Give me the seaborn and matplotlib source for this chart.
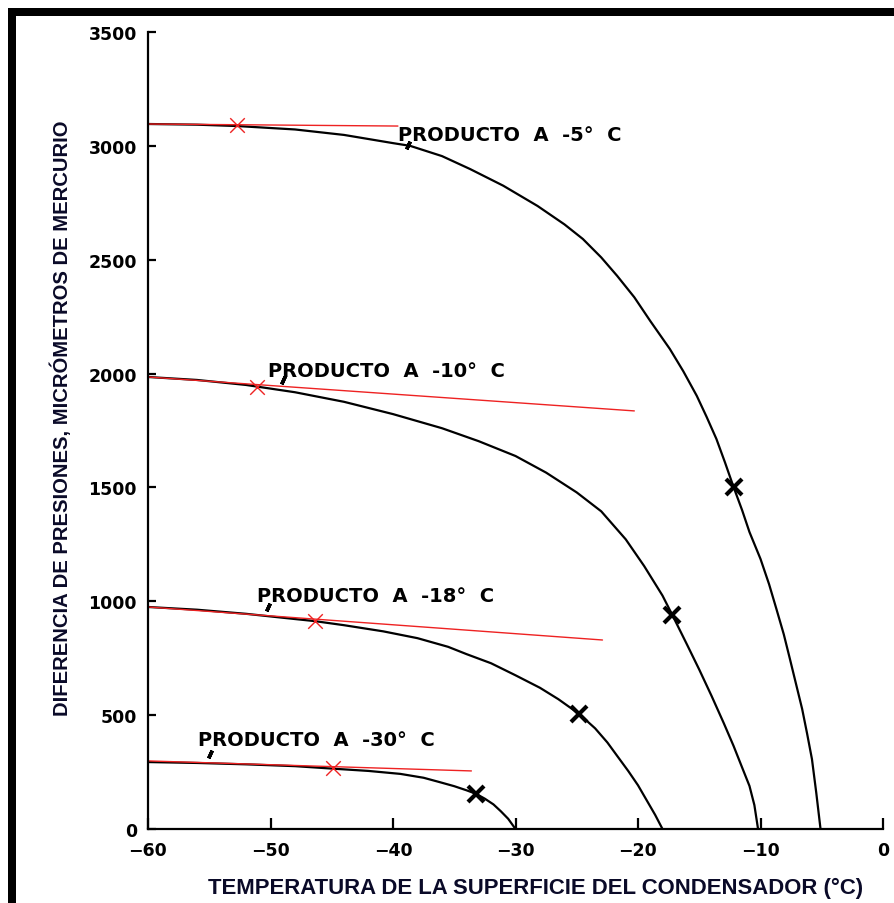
import numpy as np
import pandas as pd
import matplotlib
matplotlib.use("Agg")
import matplotlib.pyplot as plt
from matplotlib.patches import Rectangle
from matplotlib import font_manager
import seaborn as sns

# ---------------- data ----------------
T5 = [-60, -56, -52.7, -48, -44, -40, -38.6, -36, -33.7, -31, -28.2, -26, -24.5,
      -23, -21.7, -20.3, -19, -17.4, -16.3, -15.2, -14.4, -13.6, -12.9, -12.2,
      -11.5, -10.9, -10.0, -9.3, -8.7, -8.1, -7.6, -7.1, -6.6, -6.2, -5.8, -5.45, -5.1]
P5 = [3096, 3093, 3087, 3072, 3048, 3012, 3000, 2955, 2898, 2825, 2736, 2655, 2591,
      2510, 2429, 2335, 2231, 2108, 2010, 1902, 1810, 1713, 1610, 1502,
      1400, 1304, 1186, 1075, 966, 855, 747, 637, 527, 420, 307, 160, 0]

T10 = [-60, -56, -52, -48, -44, -40, -36, -33, -30, -27.5, -25, -23, -21, -19.5,
       -18, -17.2, -16, -15, -14, -13, -12.2, -11.5, -10.9, -10.5, -10.2]
P10 = [1985, 1972, 1950, 1918, 1876, 1822, 1760, 1703, 1638, 1565, 1478, 1395, 1272, 1155,
       1025, 940, 810, 700, 585, 465, 365, 270, 189, 105, 0]

T18 = [-60, -56, -52, -48, -46.4, -44, -40.8, -38, -35.5, -34, -32, -30, -28, -26.5,
       -24.8, -23.5, -22.5, -21.7, -20.8, -20, -19.3, -18.6, -18.0]
P18 = [975, 963, 945, 922, 913, 895, 868, 838, 800, 768, 728, 675, 620, 570,
       505, 442, 380, 321, 255, 192, 127, 62, 0]

T30 = [-60, -56, -52, -48, -44.9, -42, -39.4, -37.5, -36.2, -35, -34, -33.2,
       -32.5, -31.8, -31.2, -30.6, -30.0]
P30 = [294, 290, 284, 276, 265, 255, 242, 225, 206, 188, 170, 154,
       133, 108, 78, 45, 0]

CURVES = [("-5", T5, P5), ("-10", T10, P10), ("-18", T18, P18), ("-30", T30, P30)]

# tangent (red) lines: start/end of each
RED_T = [[-60, -39.6], [-60, -20.3], [-60, -22.9], [-60, -33.6]]
RED_P = [[3096, 3087], [1985, 1836], [975, 830], [299, 255]]

# red tangent points
RX_T = [-52.7, -51.1, -46.4, -44.9]
RX_P = [3092, 1941, 913, 268]

# black X points
BX_T = [-12.2, -17.2, -24.8, -33.2]
BX_P = [1502, 940, 505, 154]

# curve labels
LABELS = ["PRODUCTO  A  -5°  C", "PRODUCTO  A  -10°  C",
          "PRODUCTO  A  -18°  C", "PRODUCTO  A  -30°  C"]
LAB_T = [-39.6, -50.2, -51.1, -55.9]
LAB_P = [3026, 1989, 1001, 369]

# small leader marks under labels
LEAD_T = [-38.8, -49.0, -50.2, -54.9]
LEAD_P = [3003, 1972, 975, 329]

XTICKS = [-60, -50, -40, -30, -20, -10, 0]
YTICKS = [0, 500, 1000, 1500, 2000, 2500, 3000, 3500]

XLABEL = "TEMPERATURA DE LA SUPERFICIE DEL CONDENSADOR (°C)"
YLABEL = "DIFERENCIA DE PRESIONES, MICRÓMETROS DE MERCURIO"

# ---------------- figure ----------------
sns.set_style("ticks")
plt.rcParams['font.family'] = ['DejaVu Sans']

W, H = 894, 904
fig = plt.figure(figsize=(W / 100, H / 100), dpi=100)
ax = fig.add_axes([148 / W, 1 - 830 / H, (883 - 148) / W, (830 - 33) / H])

for name, t, p in CURVES:
    df = pd.DataFrame({"T": t, "P": p})
    sns.lineplot(data=df, x="T", y="P", ax=ax, color="black", lw=1.6,
                 sort=False, estimator=None)

for t, p in zip(RED_T, RED_P):
    sns.lineplot(x=t, y=p, ax=ax, color="#ee2222", lw=1.0, sort=False, estimator=None)

sns.scatterplot(x=RX_T, y=RX_P, ax=ax, marker="x", s=110, color="#ee2222",
                linewidth=1.0, zorder=5)
ax.plot(BX_T, BX_P, ls="none", marker="x", ms=11, mew=3, color="black", zorder=6)
ax.plot(LEAD_T, LEAD_P, ls="none", marker=(2, 2, -25), ms=6, mew=2.5, color="black")

for txt, t, p in zip(LABELS, LAB_T, LAB_P):
    ax.text(t, p, txt, fontsize=14, fontweight="bold", ha="left", va="baseline",
            color="black")

ax.set_xlim(-60, 0)
ax.set_ylim(0, 3500)
ax.set_xticks(XTICKS)
ax.set_yticks(YTICKS)
ax.set_xlabel("")
ax.set_ylabel("")
for s in ["top", "right"]:
    ax.spines[s].set_visible(False)
for s in ["left", "bottom"]:
    ax.spines[s].set_linewidth(1.6)
    ax.spines[s].set_color("black")
ax.tick_params(axis="x", direction="in", length=8, width=1.6, pad=9,
               labelsize=12.5, colors="black")
ax.tick_params(axis="y", direction="in", length=6, width=1.6, pad=8,
               labelsize=12.5, colors="black")
for lab in ax.get_xticklabels() + ax.get_yticklabels():
    lab.set_fontweight("bold")

# Arial-like bold font for axis titles
names = {f.name for f in font_manager.fontManager.ttflist}
fam = "Liberation Sans" if "Liberation Sans" in names else "DejaVu Sans"

xl = fig.text(536 / W, 1 - 888 / H, XLABEL, ha="center", va="center", fontsize=14,
              fontweight="bold", family=fam, color="#0a0a28")
yl = fig.text(61 / W, 1 - 418 / H, YLABEL, ha="center", va="center", rotation=90,
              fontsize=14, fontweight="bold", family=fam, color="#0a0a28")

# fit axis-title lengths to the reference extents
fig.canvas.draw()
r = fig.canvas.get_renderer()
for t, target, horiz in [(xl, 656, True), (yl, 595, False)]:
    bb = t.get_window_extent(r)
    cur = bb.width if horiz else bb.height
    t.set_fontsize(14 * target / cur)

# thick black frame (top and left)
fig.add_artist(Rectangle((8 / W, 1 - 17 / H), (W - 8) / W, 8 / H,
                         transform=fig.transFigure, color="black", lw=0))
fig.add_artist(Rectangle((8 / W, 0), 8 / W, (H - 9) / H,
                         transform=fig.transFigure, color="black", lw=0))

fig.savefig("out.png", dpi=100, facecolor="white")
